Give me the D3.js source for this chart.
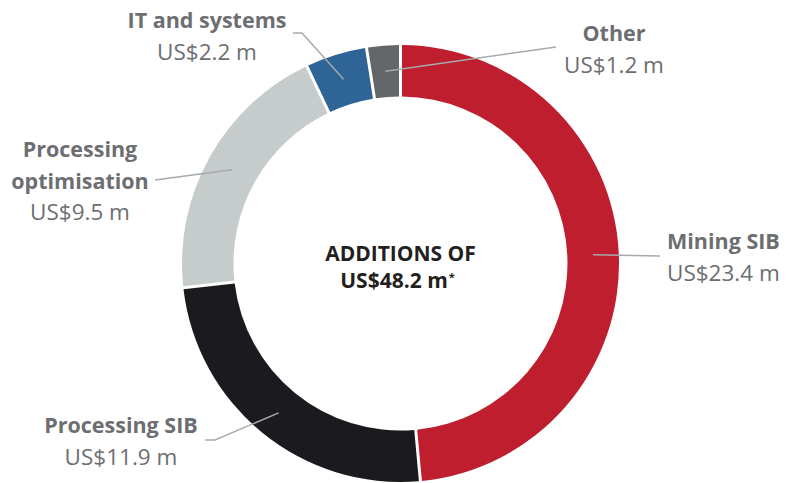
<!DOCTYPE html>
<html>
<head>
<meta charset="utf-8">
<script src="https://cdn.jsdelivr.net/npm/d3@7"></script>
<style>
  body { margin: 0; background: #fff; }
  text { font-family: "Open Sans", Lato, sans-serif; }
</style>
</head>
<body>
<div id="chart"></div>
<script>
var svgWidth = 787;
var svgHeight = 483;

// data
var categories = ["Mining SIB", "Processing SIB", "Processing optimisation", "IT and systems", "Other"];
var values = [23.4, 11.9, 9.5, 2.2, 1.2];
var valueLabels = ["US$23.4 m", "US$11.9 m", "US$9.5 m", "US$2.2 m", "US$1.2 m"];
var totalLabel = ["ADDITIONS OF", "US$48.2 m"];

var colors = ["#be1e2d", "#1b1a1f", "#c6cbcb", "#2e6496", "#626669"];

// label layout: title lines, anchor, x, first baseline, leader elbow points
var labelLayout = [
  { lines: ["Mining SIB"], anchor: "start", x: 667, y: 249, leader: [[660, 256]] },
  { lines: ["Processing SIB"], anchor: "middle", x: 121, y: 433, leader: [[205, 440], [215, 440]] },
  { lines: ["Processing", "optimisation"], anchor: "middle", x: 80, y: 157, leader: [[155, 180]] },
  { lines: ["IT and systems"], anchor: "middle", x: 207, y: 28, leader: [[293, 33], [302, 33]] },
  { lines: ["Other"], anchor: "middle", x: 614, y: 41, leader: [[556, 47]] }
];

var cx = 400.5, cy = 263.5;
var outerR = 218.5, innerR = 167;
var lineH = 31.5;

var svg = d3.select("#chart")
  .append("svg")
  .attr("width", svgWidth)
  .attr("height", svgHeight);

var g = svg.append("g")
  .attr("transform", `translate(${cx}, ${cy})`);

var pie = d3.pie().sort(null).value(d => d);
var arcs = pie(values);

var arc = d3.arc()
  .innerRadius(innerR)
  .outerRadius(outerR)
  .padRadius(outerR)
  .padAngle(3 / outerR);

var midArc = d3.arc()
  .innerRadius((innerR + outerR) / 2)
  .outerRadius((innerR + outerR) / 2);

// slices
g.selectAll("path.slice")
  .data(arcs)
  .enter()
  .append("path")
  .attr("class", "slice")
  .attr("d", arc)
  .attr("fill", (d, i) => colors[i]);

// leader lines
var line = d3.line();
arcs.forEach(function(d, i) {
  var c = midArc.centroid(d);
  var pts = labelLayout[i].leader.map(p => [p[0] - cx, p[1] - cy]);
  pts.push(c);
  g.append("path")
    .attr("d", line(pts))
    .attr("fill", "none")
    .attr("stroke", "#a7a9ac")
    .attr("stroke-width", 1.5);
});

// labels
labelLayout.forEach(function(l, i) {
  var t = svg.append("text")
    .attr("text-anchor", l.anchor)
    .attr("fill", "#6d6e71");
  l.lines.forEach(function(s, j) {
    t.append("tspan")
      .attr("x", l.x)
      .attr("y", l.y + j * lineH)
      .style("font-size", "21.5px")
      .style("font-weight", "bold")
      .text(s);
  });
  t.append("tspan")
    .attr("x", l.x)
    .attr("y", l.y + l.lines.length * lineH)
    .style("font-size", "22.5px")
    .style("font-weight", "normal")
    .text(valueLabels[i]);
});

// centre text
var ct = svg.append("text")
  .attr("text-anchor", "middle")
  .attr("fill", "#231f20")
  .style("font-size", "21px")
  .style("font-weight", "bold");
ct.append("tspan").attr("x", cx).attr("y", 261).text(totalLabel[0]);
ct.append("tspan").attr("x", cx - 3).attr("y", 288).text(totalLabel[1]);
ct.append("tspan").attr("dx", 1).attr("dy", -7).style("font-size", "11px").text("*");
</script>
</body>
</html>
